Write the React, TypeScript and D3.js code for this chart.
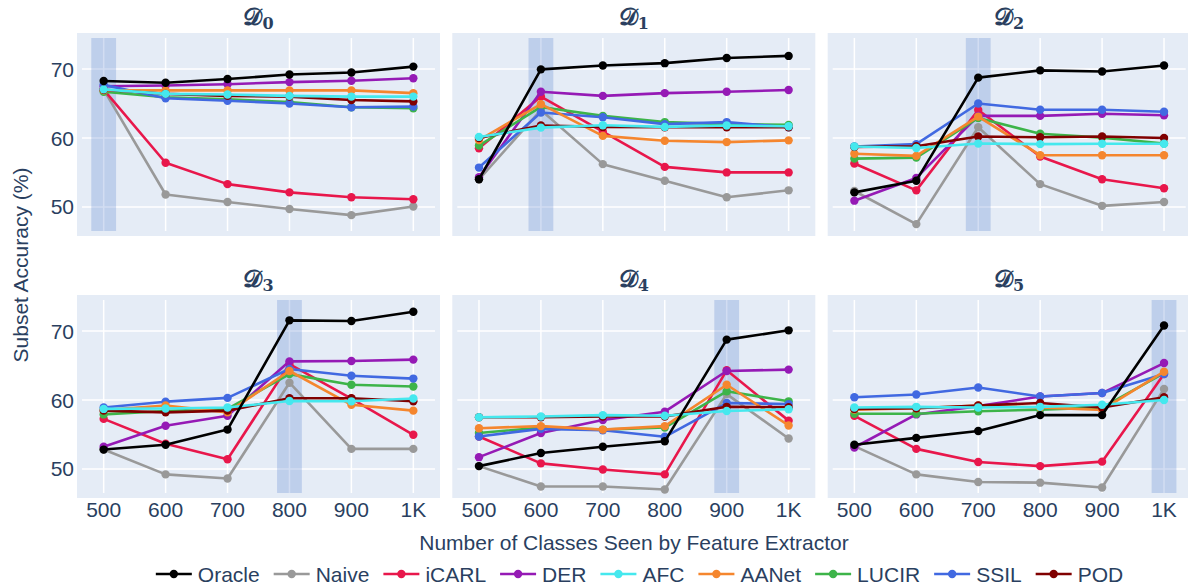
import { useEffect, useRef } from "react";
import * as d3 from "d3";

// classes seen by the feature extractor (x) and tick labels
const xVals = [500, 600, 700, 800, 900, 1000];
const xTickLabels = ["500", "600", "700", "800", "900", "1K"];
const yTicks = [50, 60, 70];
const subsets = ["0", "1", "2", "3", "4", "5"];
const highlightX = [500, 600, 700, 800, 900, 1000];

// one row per subset D0..D5, one value per x
const oracle = [
  [68.26, 68.0, 68.55, 69.2, 69.5, 70.35],
  [54.0, 69.95, 70.5, 70.85, 71.6, 71.9],
  [52.1, 53.8, 68.75, 69.8, 69.65, 70.5],
  [52.8, 53.5, 55.7, 71.55, 71.45, 72.8],
  [50.4, 52.3, 53.2, 54.0, 68.75, 70.1],
  [53.5, 54.5, 55.5, 57.8, 57.8, 70.8],
];
const naive = [
  [67.0, 51.8, 50.7, 49.7, 48.8, 50.05],
  [54.0, 64.05, 56.2, 53.8, 51.4, 52.4],
  [52.3, 47.5, 61.55, 53.3, 50.15, 50.7],
  [52.8, 49.2, 48.6, 62.5, 52.9, 52.9],
  [50.4, 47.45, 47.45, 47.0, 60.85, 54.4],
  [53.3, 49.2, 48.1, 48.0, 47.3, 61.6],
];
const icarl = [
  [67.0, 56.4, 53.3, 52.1, 51.4, 51.1],
  [58.5, 66.0, 60.9, 55.8, 55.0, 55.0],
  [56.3, 52.4, 64.05, 57.3, 54.0, 52.7],
  [57.25, 53.65, 51.4, 65.2, 60.2, 54.95],
  [54.7, 50.8, 49.9, 49.2, 64.3, 57.0],
  [57.7, 52.9, 51.0, 50.4, 51.05, 63.75],
];
const der = [
  [67.5, 67.6, 67.8, 68.1, 68.3, 68.65],
  [54.3, 66.7, 66.1, 66.5, 66.7, 66.95],
  [50.9, 54.2, 63.2, 63.2, 63.5, 63.3],
  [53.2, 56.25, 57.7, 65.6, 65.65, 65.85],
  [51.7, 55.2, 57.1, 58.3, 64.2, 64.4],
  [53.1, 57.9, 59.1, 60.5, 61.0, 65.35],
];
const afc = [
  [67.05, 66.4, 66.3, 66.1, 66.0, 66.0],
  [60.15, 61.5, 61.85, 61.6, 61.8, 61.7],
  [58.75, 58.55, 59.2, 59.1, 59.15, 59.15],
  [58.7, 58.75, 58.9, 59.85, 59.8, 60.2],
  [57.5, 57.6, 57.8, 57.7, 58.4, 58.65],
  [58.9, 59.0, 58.9, 59.0, 59.3, 60.0],
];
const aanet = [
  [66.9, 66.9, 66.9, 66.9, 66.9, 66.5],
  [59.7, 64.9, 60.3, 59.6, 59.4, 59.65],
  [57.7, 57.4, 63.1, 57.5, 57.5, 57.5],
  [58.55, 59.2, 58.2, 64.2, 59.3, 58.45],
  [55.9, 56.2, 55.7, 56.2, 62.2, 56.3],
  [58.6, 58.8, 59.2, 58.9, 58.55, 64.1],
];
const lucir = [
  [66.7, 65.9, 65.6, 65.2, 64.45, 64.3],
  [58.9, 64.5, 63.2, 62.3, 62.0, 61.9],
  [57.0, 57.15, 62.9, 60.6, 60.05, 59.2],
  [57.9, 58.4, 58.7, 63.75, 62.2, 61.95],
  [55.2, 56.0, 55.7, 56.0, 61.25, 59.8],
  [58.0, 58.0, 58.35, 58.6, 58.9, 63.9],
];
const ssil = [
  [67.7, 65.75, 65.4, 65.0, 64.45, 64.55],
  [55.7, 63.7, 63.0, 62.0, 62.3, 61.55],
  [58.75, 59.1, 65.0, 64.1, 64.1, 63.8],
  [58.9, 59.75, 60.3, 64.5, 63.5, 63.1],
  [54.7, 55.8, 55.6, 54.65, 59.55, 59.4],
  [60.4, 60.8, 61.8, 60.5, 61.0, 63.75],
];
const pod = [
  [67.0, 66.4, 66.1, 66.0, 65.5, 65.3],
  [60.0, 61.8, 61.6, 61.55, 61.55, 61.55],
  [58.7, 58.8, 60.2, 60.1, 60.2, 60.0],
  [58.45, 58.2, 58.45, 60.25, 60.25, 59.8],
  [57.5, 57.5, 57.6, 57.6, 59.0, 58.95],
  [58.7, 58.8, 59.2, 59.55, 58.9, 60.4],
];

const methods = [
  { name: "Oracle", color: "#000000", values: oracle },
  { name: "Naive", color: "#999999", values: naive },
  { name: "iCARL", color: "#e8174b", values: icarl },
  { name: "DER", color: "#951ab5", values: der },
  { name: "AFC", color: "#45e8ee", values: afc },
  { name: "AANet", color: "#f5862e", values: aanet },
  { name: "LUCIR", color: "#3db449", values: lucir },
  { name: "SSIL", color: "#4169e1", values: ssil },
  { name: "POD", color: "#800000", values: pod },
];
// drawing order (last on top)
const drawOrder = ["Naive", "iCARL", "DER", "LUCIR", "SSIL", "AANet", "POD", "AFC", "Oracle"];

const FONT = "'Liberation Sans', Arial, sans-serif";
const TXT = "#2a3f5f";

export default function App() {
  const ref = useRef<SVGSVGElement>(null);

  useEffect(() => {
    const svg = d3.select(ref.current);
    svg.selectAll("*").remove();

    const W = 353,
      H = 193,
      pad = 5;
    const lefts = [82, 457.3, 832.7];
    const tops = [38, 300];

    const x = d3.scaleLinear().domain([465, 1035]).range([0, W]);
    const y = d3.scaleLinear().domain([46.5, 74.5]).range([H, 0]);

    const line = d3
      .line<number>()
      .x((_, i) => x(xVals[i]))
      .y((d) => y(d));

    subsets.forEach((s, p) => {
      const col = p % 3,
        row = Math.floor(p / 3);
      const g = svg
        .append("g")
        .attr("transform", `translate(${lefts[col]},${tops[row]})`);

      // background
      g.append("rect")
        .attr("x", -pad)
        .attr("y", -pad)
        .attr("width", W + 2 * pad)
        .attr("height", H + 2 * pad)
        .attr("fill", "#e5ecf6");

      // grid
      g.selectAll(".vg")
        .data(xVals)
        .enter()
        .append("line")
        .attr("x1", (d) => x(d))
        .attr("x2", (d) => x(d))
        .attr("y1", 0)
        .attr("y2", H)
        .attr("stroke", "#fff")
        .attr("stroke-width", 1.5);
      g.selectAll(".hg")
        .data(yTicks)
        .enter()
        .append("line")
        .attr("x1", 0)
        .attr("x2", W)
        .attr("y1", (d) => y(d))
        .attr("y2", (d) => y(d))
        .attr("stroke", "#fff")
        .attr("stroke-width", 1.5);

      // highlighted band
      const hx = highlightX[p];
      g.append("rect")
        .attr("x", x(hx - 20))
        .attr("width", x(hx + 20) - x(hx - 20))
        .attr("y", 0)
        .attr("height", H)
        .attr("fill", "rgb(77,120,202)")
        .attr("fill-opacity", 0.25);

      // title
      const t = g
        .append("text")
        .attr("x", W / 2)
        .attr("y", -13)
        .attr("text-anchor", "middle")
        .attr("fill", TXT)
        .style("font-family", "'DejaVu Serif', 'DejaVu Sans', serif")
        .style("font-weight", "bold")
        .style("font-size", "24px");
      t.append("tspan").text("\u{1D49F}");
      t.append("tspan").attr("dy", 4).style("font-size", "16px").text(s);

      // ticks
      if (col === 0) {
        g.selectAll(".yt")
          .data(yTicks)
          .enter()
          .append("text")
          .attr("x", -8)
          .attr("y", (d) => y(d))
          .attr("dy", "0.36em")
          .attr("text-anchor", "end")
          .attr("fill", TXT)
          .style("font-family", FONT)
          .style("font-size", "21px")
          .text((d) => d);
      }
      if (row === 1) {
        g.selectAll(".xt")
          .data(xVals)
          .enter()
          .append("text")
          .attr("x", (d) => x(d))
          .attr("y", H + 24)
          .attr("text-anchor", "middle")
          .attr("fill", TXT)
          .style("font-family", FONT)
          .style("font-size", "21px")
          .text((_, i) => xTickLabels[i]);
      }

      // series
      drawOrder.forEach((nm) => {
        const m = methods.find((d) => d.name === nm)!;
        const vals = m.values[p];
        g.append("path")
          .datum(vals)
          .attr("fill", "none")
          .attr("stroke", m.color)
          .attr("stroke-width", 2.6)
          .attr("stroke-linejoin", "round")
          .attr("d", line);
        g.selectAll(null)
          .data(vals)
          .enter()
          .append("circle")
          .attr("cx", (_, i) => x(xVals[i]))
          .attr("cy", (d) => y(d))
          .attr("r", 4.2)
          .attr("fill", m.color);
      });
    });

    // axis titles
    svg
      .append("text")
      .attr("x", 634)
      .attr("y", 550)
      .attr("text-anchor", "middle")
      .attr("fill", TXT)
      .style("font-family", FONT)
      .style("font-size", "21px")
      .text("Number of Classes Seen by Feature Extractor");

    svg
      .append("text")
      .attr("transform", "translate(28,265) rotate(-90)")
      .attr("text-anchor", "middle")
      .attr("fill", TXT)
      .style("font-family", FONT)
      .style("font-size", "21px")
      .text("Subset Accuracy (%)");

    // legend
    const legend = svg.append("g");
    let cx = 0;
    const ly = 574;
    methods.forEach((m) => {
      const it = legend.append("g").attr("transform", `translate(${cx},0)`);
      it.append("line")
        .attr("x1", 0)
        .attr("x2", 36)
        .attr("y1", ly)
        .attr("y2", ly)
        .attr("stroke", m.color)
        .attr("stroke-width", 2.6);
      it.append("circle").attr("cx", 18).attr("cy", ly).attr("r", 4.2).attr("fill", m.color);
      const tx = it
        .append("text")
        .attr("x", 42)
        .attr("y", ly)
        .attr("dy", "0.36em")
        .attr("fill", TXT)
        .style("font-family", FONT)
        .style("font-size", "21px")
        .text(m.name);
      const w = (tx.node() as SVGTextElement).getComputedTextLength();
      cx += 42 + w + 14;
    });
    const total = cx - 14;
    legend.attr("transform", `translate(${639.5 - total / 2},0)`);
  }, []);

  return (
    <svg
      ref={ref}
      width={1188}
      height={588}
      style={{ position: "absolute", left: 0, top: 0, background: "#fff" }}
    />
  );
}
